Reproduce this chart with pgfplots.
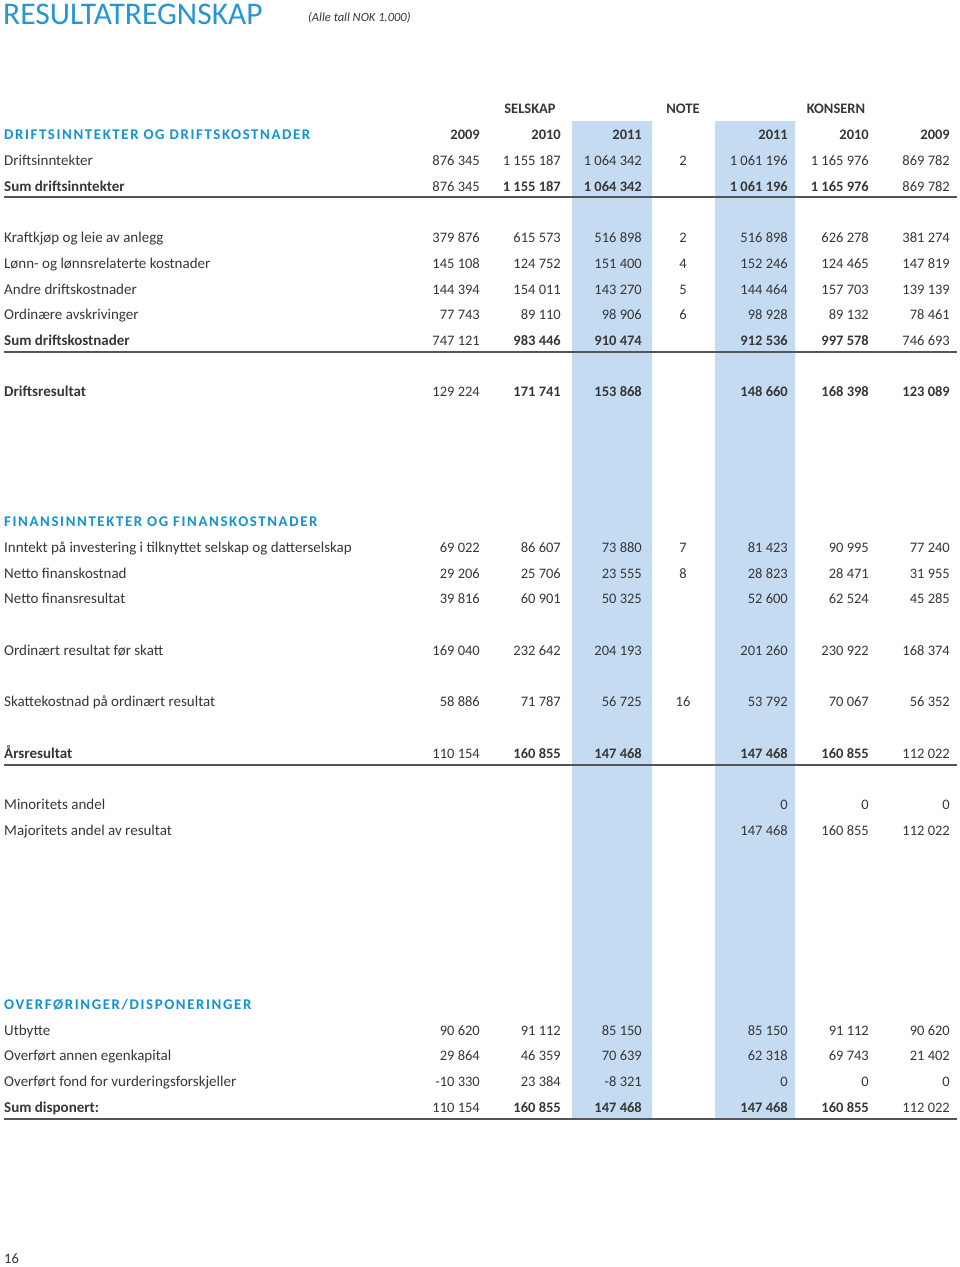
\documentclass[border=0pt]{standalone}
\usepackage{fontspec}
\setmainfont{Carlito}
\newfontfamily\hdfont[LetterSpace=11]{Carlito}
\usepackage{pgfplots}
\usepackage{pgfplotstable}
\pgfplotsset{compat=1.18}
\definecolor{hd}{RGB}{22,146,206}
\definecolor{ttl}{RGB}{40,150,210}
\definecolor{shade}{RGB}{197,219,241}
\definecolor{txt}{RGB}{55,55,55}
\definecolor{rulec}{RGB}{85,85,85}
\protected\def\BB{\bfseries}
\protected\def\HD{\color{hd}\hdfont\bfseries\fontsize{14.8}{17}\selectfont}

\pgfplotsset{
  cell/.style={draw=none, mark=none, point meta=explicit symbolic, nodes near coords,
    every node near coord/.append style={anchor=base east, inner sep=0pt,
      font=\fontsize{14.5}{17}\selectfont, text=txt, yshift=-5pt}},
  hrule/.style={draw=rulec, line width=1.5pt, mark=none},
}

% y = row centre in pixels from the top
\pgfplotstableread[col sep=semicolon]{
y;lab;a;b;c;n;d;e;f
134;\HD DRIFTSINNTEKTER OG DRIFTSKOSTNADER;\BB 2009;\BB 2010;\BB 2011;;\BB 2011;\BB 2010;\BB 2009
160;Driftsinntekter;876 345;1 155 187;1 064 342;2;1 061 196;1 165 976;869 782
186;\BB Sum driftsinntekter;876 345;\BB 1 155 187;\BB 1 064 342;;\BB 1 061 196;\BB 1 165 976;869 782
237;Kraftkjøp og leie av anlegg;379 876;615 573;516 898;2;516 898;626 278;381 274
263;Lønn- og lønnsrelaterte kostnader;145 108;124 752;151 400;4;152 246;124 465;147 819
289;Andre driftskostnader;144 394;154 011;143 270;5;144 464;157 703;139 139
314;Ordinære avskrivinger;77 743;89 110;98 906;6;98 928;89 132;78 461
340;\BB Sum driftskostnader;747 121;\BB 983 446;\BB 910 474;;\BB 912 536;\BB 997 578;746 693
391;\BB Driftsresultat;129 224;\BB 171 741;\BB 153 868;;\BB 148 660;\BB 168 398;\BB 123 089
521;\HD FINANSINNTEKTER OG FINANSKOSTNADER;;;;;;;
547;Inntekt på investering i tilknyttet selskap og datterselskap;69 022;86 607;73 880;7;81 423;90 995;77 240
573;Netto finanskostnad;29 206;25 706;23 555;8;28 823;28 471;31 955
598;Netto finansresultat;39 816;60 901;50 325;;52 600;62 524;45 285
650;Ordinært resultat før skatt;169 040;232 642;204 193;;201 260;230 922;168 374
701;Skattekostnad på ordinært resultat;58 886;71 787;56 725;16;53 792;70 067;56 352
753;\BB Årsresultat;110 154;\BB 160 855;\BB 147 468;;\BB 147 468;\BB 160 855;112 022
804;Minoritets andel;;;;;0;0;0
830;Majoritets andel av resultat;;;;;147 468;160 855;112 022
1004;\HD OVERFØRINGER/DISPONERINGER;;;;;;;
1030;Utbytte;90 620;91 112;85 150;;85 150;91 112;90 620
1055;Overført annen egenkapital;29 864;46 359;70 639;;62 318;69 743;21 402
1081;Overført fond for vurderingsforskjeller;-10 330;23 384;-8 321;;0;0;0
1107;\BB Sum disponert:;110 154;\BB 160 855;\BB 147 468;;\BB 147 468;\BB 160 855;112 022
}\tab

\begin{document}
\begin{tikzpicture}
\begin{axis}[
    width=960pt, height=1267pt, scale only axis,
    xmin=0, xmax=960, ymin=0, ymax=1267,
    y dir=reverse, hide axis, clip=false,
]
% page and shaded 2011 columns
\addplot[draw=none, fill=white] coordinates {(0,0) (960,0) (960,1267) (0,1267) (0,0)};
\addplot[draw=none, fill=shade] coordinates {(572,121) (652,121) (652,1119) (572,1119) (572,121)};
\addplot[draw=none, fill=shade] coordinates {(715,121) (795,121) (795,1119) (715,1119) (715,121)};

% rules
\addplot[hrule] coordinates {(4,197) (957,197)};
\addplot[hrule] coordinates {(4,352) (957,352)};
\addplot[hrule] coordinates {(4,765) (957,765)};
\addplot[hrule] coordinates {(4,1119) (957,1119)};

% title (yshift of -5pt still applies: baseline = y + 5)
\addplot[cell, every node near coord/.append style={anchor=base west,
    font=\fontsize{31.5}{36}\selectfont, text=ttl}]
    coordinates {(3,19) [RESULTATREGNSKAP]};
\addplot[cell, every node near coord/.append style={anchor=base west,
    font=\fontsize{12.5}{15}\selectfont\itshape}]
    coordinates {(308,16) [{(Alle tall NOK 1.000)}]};

% group headers
\addplot[cell, every node near coord/.append style={anchor=base}]
    coordinates {(530,108) [\BB SELSKAP] (683,108) [\BB NOTE] (836,108) [\BB KONSERN]};

% labels and columns
\addplot[cell, every node near coord/.append style={anchor=base west,
    font=\fontsize{15}{17}\selectfont}] table[x expr=4, y=y, meta=lab] {\tab};
\addplot[cell] table[x expr=480, y=y, meta=a] {\tab};
\addplot[cell] table[x expr=561, y=y, meta=b] {\tab};
\addplot[cell] table[x expr=642, y=y, meta=c] {\tab};
\addplot[cell, every node near coord/.append style={anchor=base}] table[x expr=683, y=y, meta=n] {\tab};
\addplot[cell] table[x expr=788, y=y, meta=d] {\tab};
\addplot[cell] table[x expr=869, y=y, meta=e] {\tab};
\addplot[cell] table[x expr=950, y=y, meta=f] {\tab};

% page number
\addplot[cell, every node near coord/.append style={anchor=base west}]
    coordinates {(4,1258) [16]};
\end{axis}
\end{tikzpicture}
\end{document}
